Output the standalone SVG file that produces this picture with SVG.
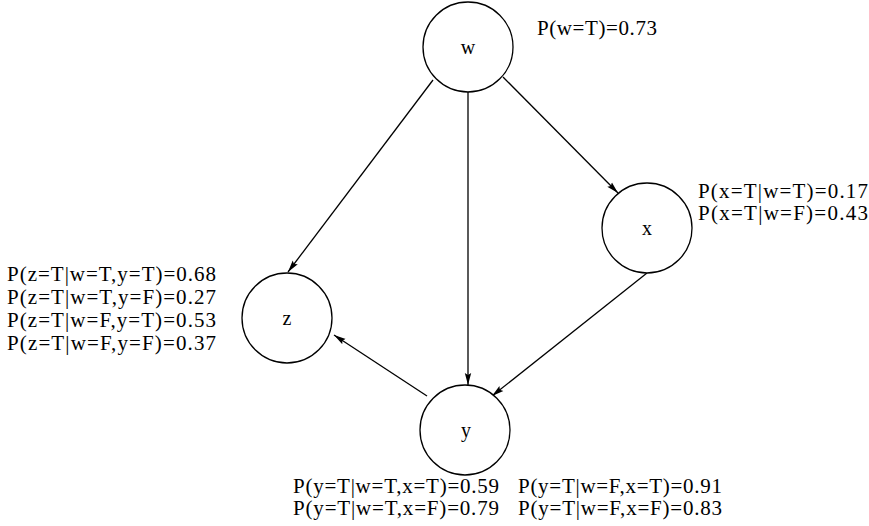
<svg xmlns="http://www.w3.org/2000/svg" width="869" height="526" viewBox="0 0 869 526">
<style>
.node circle{fill:#fff;stroke:#000;stroke-width:1.3}
.lbl{font-family:"Liberation Serif","Times New Roman",serif;font-size:20px;fill:#000;text-anchor:middle}
.t{font-family:"Liberation Serif","Times New Roman",serif;font-size:21px;fill:#000}
.edge{stroke:#000;stroke-width:1.3;fill:none;marker-end:url(#ah)}
</style>
<defs>
<marker id="ah" viewBox="0 0 12 8" refX="12" refY="4" markerWidth="12" markerHeight="8" markerUnits="userSpaceOnUse" orient="auto">
<path d="M0,0.8 L12,4 L0,7.2 L2,4 Z" fill="#000"/>
</marker>
</defs>
<g id="connectors">
<line class="edge" x1="433" y1="80" x2="288" y2="272"/>
<line class="edge" x1="468" y1="92" x2="468" y2="385"/>
<line class="edge" x1="503" y1="77" x2="618" y2="193"/>
<line class="edge" x1="647" y1="273" x2="492" y2="396"/>
<line class="edge" x1="427" y1="396" x2="334" y2="335"/>
</g>
<g id="node-w" class="node">
<circle cx="468" cy="47" r="45"/>
<text class="lbl" x="468" y="54">w</text>
<text class="t" x="537" y="35" textLength="120" lengthAdjust="spacing">P(w=T)=0.73</text>
</g>
<g id="node-x" class="node">
<circle cx="647" cy="228" r="45"/>
<text class="lbl" x="647" y="235">x</text>
<text class="t" x="698" y="198" textLength="170" lengthAdjust="spacing">P(x=T|w=T)=0.17</text>
<text class="t" x="698" y="220" textLength="170" lengthAdjust="spacing">P(x=T|w=F)=0.43</text>
</g>
<g id="node-z" class="node">
<circle cx="287" cy="318" r="45"/>
<text class="lbl" x="287" y="325">z</text>
<text class="t" x="7" y="281" textLength="209" lengthAdjust="spacing">P(z=T|w=T,y=T)=0.68</text>
<text class="t" x="7" y="304" textLength="209" lengthAdjust="spacing">P(z=T|w=T,y=F)=0.27</text>
<text class="t" x="7" y="327" textLength="209" lengthAdjust="spacing">P(z=T|w=F,y=T)=0.53</text>
<text class="t" x="7" y="350" textLength="209" lengthAdjust="spacing">P(z=T|w=F,y=F)=0.37</text>
</g>
<g id="node-y" class="node">
<circle cx="465" cy="430" r="45"/>
<text class="lbl" x="466" y="437">y</text>
<text class="t" x="293" y="493" textLength="206" lengthAdjust="spacing">P(y=T|w=T,x=T)=0.59</text>
<text class="t" x="293" y="515" textLength="206" lengthAdjust="spacing">P(y=T|w=T,x=F)=0.79</text>
<text class="t" x="518" y="493" textLength="204" lengthAdjust="spacing">P(y=T|w=F,x=T)=0.91</text>
<text class="t" x="518" y="515" textLength="204" lengthAdjust="spacing">P(y=T|w=F,x=F)=0.83</text>
</g>
</svg>
